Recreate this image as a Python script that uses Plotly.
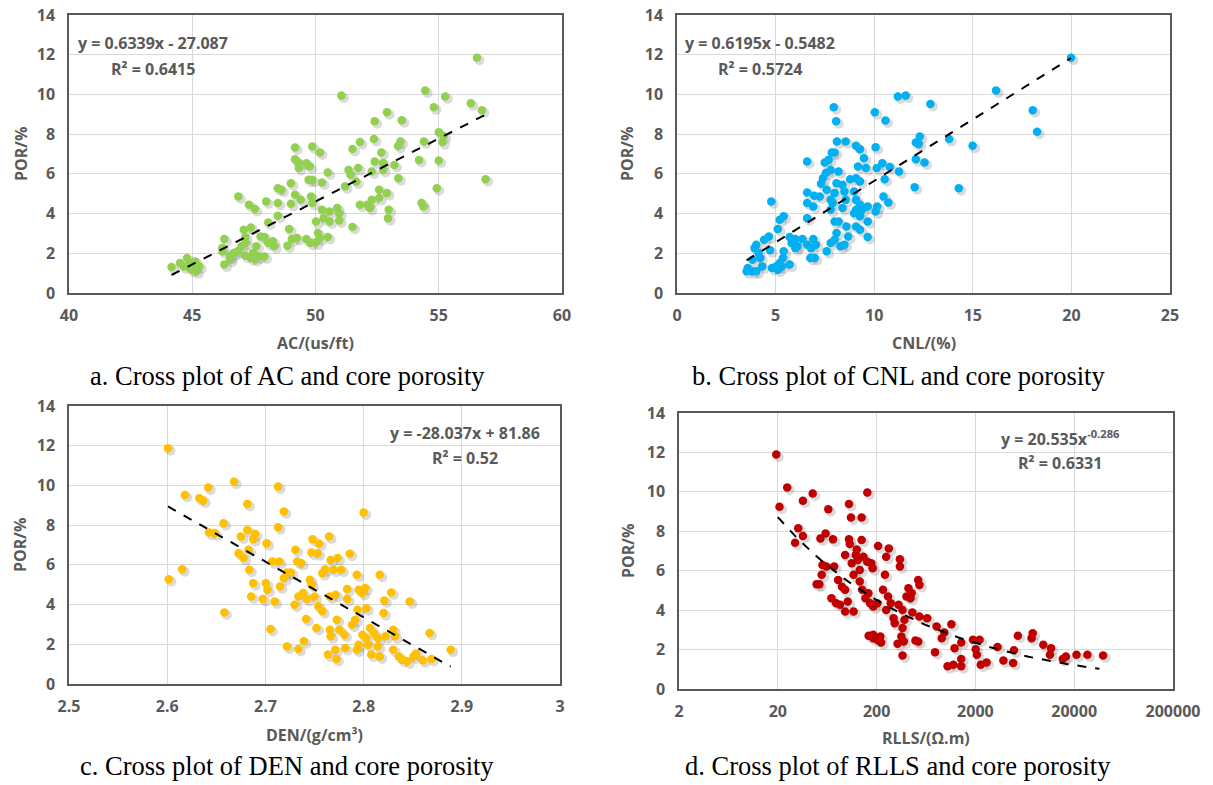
import numpy as np
import plotly.graph_objects as go

# ---------------- data ----------------
ac_x = [56.55, 51.05, 54.45, 55.26, 56.3, 56.75, 54.8, 52.9, 52.4, 53.5,
        55.0, 55.2, 55.15, 54.4, 53.45, 53.35, 52.37, 51.8, 51.5, 52.67,
        52.4, 52.74, 53.2, 54.2, 55.0, 52.74, 52.28, 51.73, 51.34, 51.42,
        51.65, 51.2, 50.5, 50.18, 49.87, 49.17, 49.17, 49.32, 49.63, 49.76,
        49.32, 49.72, 49.87, 50.26, 49.0, 48.47, 48.62, 49.17, 49.4, 49.82,
        49.87, 49.0, 48.47, 48.0, 47.3, 47.54, 46.87, 48.08, 48.47, 50.26,
        50.57, 50.88, 50.96, 50.33, 50.57, 50.96, 50.02, 51.8, 52.1, 52.28,
        52.58, 52.9, 52.58, 52.2, 52.97, 52.94, 53.36, 54.3, 54.37, 54.92,
        56.9, 51.5, 48.93, 47.09, 47.38, 47.15, 47.77, 47.93, 48.27, 48.32,
        48.86, 49.04, 49.25, 49.63, 49.79, 50.1, 50.18, 50.5, 50.02, 47.6,
        47.46, 47.38, 47.54, 47.69, 47.15, 47.0, 46.68, 46.53, 46.3, 46.22,
        46.22, 46.3, 44.16, 44.5, 44.79, 44.9, 44.66, 45.05, 45.13, 45.28,
        45.16, 44.97, 44.82, 46.53, 46.84, 47.15, 48.08, 47.93]
ac_por = [11.85, 9.94, 10.2, 9.9, 9.55, 9.2, 9.35, 9.1, 8.65, 8.7,
          8.1, 7.9, 7.6, 7.63, 7.63, 7.4, 7.75, 7.6, 7.25, 7.08,
          6.62, 6.55, 6.45, 6.7, 6.67, 6.2, 6.12, 6.29, 6.2, 5.95,
          5.6, 5.37, 6.07, 7.08, 7.38, 7.33, 6.74, 6.54, 6.54, 6.37,
          6.29, 5.7, 5.7, 5.57, 5.53, 5.28, 5.2, 4.95, 4.7, 4.86,
          4.53, 4.49, 4.53, 4.61, 4.44, 4.23, 4.86, 3.55, 3.89, 4.19,
          4.11, 4.28, 4.02, 3.77, 3.6, 3.65, 3.6, 4.44, 4.44, 4.7,
          5.2, 5.03, 4.78, 4.28, 4.19, 3.77, 5.78, 4.53, 4.36, 5.28,
          5.73, 3.32, 3.22, 3.19, 3.3, 2.8, 2.85, 2.82, 2.6, 2.35,
          2.38, 2.72, 2.77, 2.72, 2.52, 3.02, 2.77, 2.82, 2.55, 2.35,
          2.01, 1.76, 1.71, 1.84, 1.88, 2.35, 2.01, 1.68, 2.72, 2.26,
          2.1, 1.43, 1.31, 1.51, 1.76, 1.51, 1.34, 1.26, 1.59, 1.34,
          1.09, 1.17, 1.37, 1.84, 2.1, 2.52, 2.52, 1.84]

cnl_x = [19.98, 16.18, 18.04, 18.26, 14.99, 14.29, 13.8, 12.85, 11.2, 11.6,
         10.03, 10.57, 7.95, 8.07, 8.11, 8.55, 12.31, 12.11, 12.25, 12.11,
         12.55, 12.05, 11.26, 10.8, 10.41, 10.07, 10.13, 10.53, 10.47, 10.72,
         10.15, 10.07, 9.67, 9.67, 9.67, 9.58, 9.48, 9.28, 9.08, 9.18,
         9.08, 9.28, 8.78, 8.98, 9.08, 9.28, 9.08, 9.38, 8.98, 9.28,
         9.08, 9.28, 8.59, 8.68, 8.49, 8.29, 7.99, 7.79, 7.59, 8.09,
         7.99, 8.19, 7.79, 7.89, 7.99, 8.09, 8.39, 8.49, 8.55, 8.39,
         7.79, 7.59, 7.3, 7.4, 7.55, 7.79, 8.19, 7.49, 7.69, 7.85,
         7.99, 6.6, 6.6, 6.96, 6.6, 6.91, 7.24, 6.6, 6.36, 6.6,
         6.91, 7.04, 6.8, 6.76, 6.99, 6.0, 5.71, 5.81, 6.11, 6.0,
         5.71, 5.41, 5.21, 5.11, 5.41, 5.37, 5.21, 5.02, 4.82, 5.11,
         5.31, 4.78, 4.66, 4.42, 4.72, 4.22, 4.32, 4.02, 3.93, 4.13,
         3.83, 3.59, 3.83, 4.02, 3.53]
cnl_por = [11.85, 10.2, 9.2, 8.12, 7.41, 5.28, 7.75, 9.52, 9.9, 9.94,
           9.1, 8.69, 9.36, 8.65, 7.63, 7.63, 7.88, 7.58, 7.51, 6.74,
           6.57, 5.33, 6.12, 6.34, 6.54, 7.34, 6.29, 5.73, 4.86, 4.56,
           4.36, 4.11, 4.36, 3.6, 2.82, 6.29, 6.79, 7.24, 7.41, 6.37,
           5.78, 5.62, 5.73, 5.11, 4.69, 4.44, 4.19, 4.19, 4.02, 3.86,
           3.35, 3.19, 3.35, 2.85, 2.43, 2.35, 2.68, 2.52, 2.1, 3.02,
           3.6, 3.6, 4.19, 4.53, 5.03, 5.53, 5.45, 5.11, 4.69, 4.28,
           4.69, 5.2, 5.5, 5.78, 6.04, 6.2, 6.12, 6.57, 6.71, 7.08,
           7.08, 6.62, 5.06, 4.9, 4.53, 4.36, 4.86, 3.77, 2.72, 2.43,
           2.72, 2.43, 2.26, 1.76, 1.76, 2.72, 2.82, 2.52, 2.35, 2.26,
           1.43, 3.86, 3.69, 3.22, 2.1, 1.76, 1.51, 1.34, 1.26, 1.17,
           1.34, 4.61, 2.85, 2.68, 2.15, 1.76, 1.34, 2.43, 2.26, 2.01,
           1.68, 1.26, 1.09, 1.09, 1.09]

den_x = [2.6008, 2.6016, 2.6152, 2.618, 2.6328, 2.6367, 2.6418, 2.668, 2.7129, 2.6816,
         2.7188, 2.80, 2.6574, 2.6426, 2.6484, 2.675, 2.6816, 2.6895, 2.6875, 2.7012,
         2.7129, 2.6727, 2.6777, 2.6828, 2.6836, 2.6875, 2.6855, 2.6973, 2.7004, 2.702,
         2.7094, 2.707, 2.7141, 2.7148, 2.7188, 2.7219, 2.7258, 2.6582, 2.7051, 2.7219,
         2.7336, 2.7391, 2.7305, 2.7324, 2.7363, 2.7297, 2.7336, 2.7383, 2.7422, 2.7414,
         2.7453, 2.7469, 2.748, 2.7469, 2.7531, 2.7547, 2.758, 2.7609, 2.75, 2.7539,
         2.758, 2.752, 2.7648, 2.7664, 2.7695, 2.7734, 2.7773, 2.7656, 2.7715, 2.7727,
         2.7656, 2.7664, 2.7637, 2.7711, 2.7723, 2.7754, 2.7805, 2.7813, 2.7832, 2.7832,
         2.7859, 2.7883, 2.7914, 2.793, 2.795, 2.7938, 2.795, 2.793, 2.7988, 2.8016,
         2.8027, 2.7988, 2.8027, 2.8047, 2.8078, 2.8066, 2.8105, 2.8145, 2.8145, 2.8164,
         2.8164, 2.8203, 2.8211, 2.8223, 2.8281, 2.8301, 2.8301, 2.832, 2.8359, 2.8391,
         2.8445, 2.8469, 2.8508, 2.8535, 2.8602, 2.8672, 2.8691, 2.8887]
den_por = [11.87, 5.28, 5.78, 9.52, 9.36, 9.24, 9.89, 10.19, 9.94, 9.07,
           8.69, 8.64, 8.1, 7.63, 7.6, 7.43, 7.76, 7.56, 7.29, 7.09,
           7.9, 6.59, 6.34, 6.76, 5.75, 5.08, 4.41, 4.28, 5.08, 4.75,
           4.16, 6.17, 6.17, 4.91, 5.33, 5.62, 5.62, 3.6, 2.77, 1.89,
           1.76, 2.15, 6.76, 6.17, 6.09, 3.99, 4.41, 4.58, 4.28, 3.27,
           5.25, 5.0, 7.29, 6.62, 6.59, 7.06, 5.58, 5.78, 4.41, 3.91,
           3.66, 2.82, 7.43, 6.25, 5.75, 6.34, 5.75, 4.41, 4.49, 3.24,
           2.73, 2.4, 1.48, 1.73, 1.26, 2.73, 2.48, 1.81, 4.28, 4.78,
           6.56, 2.98, 3.24, 5.5, 4.75, 3.74, 1.98, 1.73, 4.58, 4.83,
           3.82, 2.48, 2.31, 1.98, 1.48, 2.82, 2.57, 2.31, 1.89, 1.39,
           5.5, 3.57, 4.21, 2.4, 4.61, 2.73, 1.73, 2.4, 1.39, 1.22,
           1.14, 4.16, 1.39, 1.53, 1.19, 2.57, 1.26, 1.73]

rlls_x = [19.3, 20.8, 24.9, 35.9, 45.1, 64.9, 29.9, 32.2, 35.9, 54,
          60.9, 72.4, 56.6, 62, 74.3, 55.6, 49.4, 52.6, 81.5, 89.3,
          96, 69.8, 77.9, 85.3, 102, 96, 117, 105, 110, 141,
          161, 96, 105, 107, 112, 123, 129, 135, 141, 126,
          147, 161, 177, 182, 117, 135, 143, 165, 154, 172,
          185, 203, 207, 250, 266, 250, 243, 232, 261, 278,
          297, 305, 344, 344, 334, 366, 383, 401, 420, 440,
          452, 366, 356, 377, 326, 366, 527, 542, 460, 542,
          650, 494, 527, 166, 185, 203, 218, 222, 185, 809,
          970, 912, 1143, 780, 1045, 1197, 1231, 1436, 1436, 1436,
          1888, 2013, 2067, 2203, 2265, 2596, 3350, 3840, 4820, 4910,
          5380, 7400, 7600, 9730, 11670, 11360, 15320, 16480, 21080, 27200,
          39200]
rlls_por = [11.89, 9.24, 10.22, 9.55, 9.92, 9.12, 7.42, 8.15, 7.76, 7.64,
            7.89, 7.59, 6.29, 6.21, 6.21, 5.79, 5.31, 5.31, 5.53, 5.19,
            5.03, 4.6, 4.35, 4.27, 4.44, 3.93, 3.93, 9.38, 8.7, 8.7,
            9.97, 6.8, 7.59, 7.35, 6.38, 6.8, 6.54, 6.04, 7.56, 7.08,
            6.71, 6.46, 6.38, 6.12, 5.79, 5.45, 5.03, 4.86, 4.6, 4.35,
            4.18, 4.35, 7.25, 4.01, 7.13, 6.71, 5.79, 5.03, 4.69, 4.35,
            3.59, 3.34, 6.58, 6.21, 4.27, 4.01, 3.51, 4.69, 5.11, 4.6,
            4.86, 3.09, 2.66, 2.41, 2.29, 1.7, 5.53, 5.28, 3.88, 3.68,
            3.59, 2.46, 2.41, 2.7, 2.58, 2.5, 2.66, 2.36, 2.75, 3.17,
            2.87, 2.58, 3.29, 1.86, 1.15, 1.23, 2.07, 2.36, 1.52, 1.15,
            2.5, 2.02, 1.74, 2.5, 1.23, 1.35, 2.13, 1.45, 1.32, 1.96,
            2.7, 2.58, 2.83, 2.24, 2.07, 1.74, 1.52, 1.65, 1.74, 1.74,
            1.7]

# fitted trend coefficients (as printed on the chart)
ac_fit = (0.6339, -27.087)
cnl_fit = (0.6195, -0.5482)
den_fit = (-28.037, 81.86)
rlls_fit = (20.535, -0.286)

eq_text = ["y = 0.6339x - 27.087", "y = 0.6195x - 0.5482",
           "y = -28.037x + 81.86", "y = 20.535x<sup>-0.286</sup>"]
r2_text = ["R² = 0.6415", "R² = 0.5724", "R² = 0.52", "R² = 0.6331"]
x_titles = ["AC/(us/ft)", "CNL/(%)", "DEN/(g/cm³)", "RLLS/(Ω.m)"]
captions = ["a. Cross plot of AC and core porosity",
            "b. Cross plot of CNL and core porosity",
            "c. Cross plot of DEN and core porosity",
            "d. Cross plot of RLLS and core porosity"]
colors = ["#92D050", "#00B0F0", "#FFC000", "#C00000"]

# ---------------- layout geometry (pixels) ----------------
W, H = 1213, 785
boxes = [(69, 562, 15, 293), (677, 1170, 15, 293),
         (69, 560, 406, 684), (679, 1173, 413, 689)]
xranges = [(40, 60), (0, 25), (2.5, 3.0), (np.log10(2), np.log10(200000))]

GRAY = "#595959"
FONT = "Open Sans"

fig = go.Figure()

datasets = [(ac_x, ac_por), (cnl_x, cnl_por), (den_x, den_por), (rlls_x, rlls_por)]

for i, (xs, ys) in enumerate(datasets):
    xa = "x" if i == 0 else f"x{i+1}"
    ya = "y" if i == 0 else f"y{i+1}"
    xs = np.array(xs, dtype=float)
    ys = np.array(ys, dtype=float)
    x0, x1, y0, y1 = boxes[i]
    pw, ph = x1 - x0, y1 - y0
    # soft drop shadow (~2.5 px right / down)
    dy = 2.5 * 14 / ph
    if i == 3:
        sx = xs * 10 ** (2.5 * (xranges[3][1] - xranges[3][0]) / pw)
    else:
        sx = xs + 2.5 * (xranges[i][1] - xranges[i][0]) / pw
    fig.add_trace(go.Scatter(x=sx, y=ys - dy, mode="markers", xaxis=xa, yaxis=ya,
                             marker=dict(size=10, color="rgba(90,90,90,0.22)", line=dict(width=0)),
                             hoverinfo="skip", showlegend=False))
    fig.add_trace(go.Scatter(x=xs, y=ys, mode="markers", xaxis=xa, yaxis=ya,
                             marker=dict(size=8.5, color=colors[i], line=dict(width=0)),
                             showlegend=False))
    # trend line
    if i == 3:
        tx = np.logspace(np.log10(20), np.log10(36000), 60)
        ty = rlls_fit[0] * tx ** rlls_fit[1]
    else:
        fit = [ac_fit, cnl_fit, den_fit][i]
        tx = np.array([xs.min(), xs.max()])
        ty = fit[0] * tx + fit[1]
    fig.add_trace(go.Scatter(x=tx, y=ty, mode="lines", xaxis=xa, yaxis=ya,
                             line=dict(color="black", width=2, dash="dash"),
                             hoverinfo="skip", showlegend=False))

layout = dict(width=W, height=H, margin=dict(l=0, r=0, t=0, b=0, autoexpand=False),
              paper_bgcolor="white", plot_bgcolor="white", showlegend=False,
              font=dict(family=FONT, color=GRAY))

tickfont = dict(family=FONT, size=16, color=GRAY, weight="bold")
for i in range(4):
    x0, x1, y0, y1 = boxes[i]
    sfx = "" if i == 0 else str(i + 1)
    xd = [x0 / W, x1 / W]
    yd = [1 - y1 / H, 1 - y0 / H]
    xax = dict(domain=xd, anchor="y" + sfx, showline=True, linecolor=GRAY, linewidth=1.5,
               mirror=True, showgrid=True, gridcolor="#d9d9d9", gridwidth=1, zeroline=False,
               ticks="", tickfont=tickfont, ticklabelstandoff=7, automargin=False)
    if i == 0:
        xax.update(range=[40, 60], dtick=5, tick0=40)
    elif i == 1:
        xax.update(range=[0, 25], dtick=5, tick0=0)
    elif i == 2:
        xax.update(range=[2.5, 3.0], dtick=0.1, tick0=2.5)
    else:
        xax.update(type="log", range=[np.log10(2), np.log10(200000)],
                   tickvals=[2, 20, 200, 2000, 20000, 200000],
                   ticktext=["2", "20", "200", "2000", "20000", "200000"])
    yax = dict(domain=yd, anchor="x" + sfx, range=[0, 14], dtick=2, showline=True,
               linecolor=GRAY, linewidth=1.5, mirror=True, showgrid=True,
               gridcolor="#d9d9d9", gridwidth=1, zeroline=False, ticks="",
               tickfont=tickfont, ticklabelstandoff=9, automargin=False)
    layout["xaxis" + sfx] = xax
    layout["yaxis" + sfx] = yax

fig.update_layout(**layout)

def ann(text, px, py, size=15, angle=0, family=FONT, bold=True, color=GRAY):
    fig.add_annotation(text=text, x=px / W, y=1 - py / H, xref="paper", yref="paper",
                       xanchor="center", yanchor="middle", showarrow=False, textangle=angle,
                       font=dict(family=family, size=size, color=color,
                                 weight="bold" if bold else "normal"))

ytitle_x = [21, 627, 20, 628]
xtitle_y = [343, 343, 735, 738]
eq_pos = [(153, 43, 69), (760, 43, 69), (465, 433, 458), (1060, 438, 463)]
cap_pos = [(287, 376), (898, 376), (287, 766), (898, 766)]
for i in range(4):
    x0, x1, y0, y1 = boxes[i]
    ann("POR/%", ytitle_x[i], (y0 + y1) / 2, size=16, angle=-90)
    ann(x_titles[i], (x0 + x1) / 2, xtitle_y[i], size=16)
    ex, ey, ry = eq_pos[i]
    ann(eq_text[i], ex, ey, size=16)
    ann(r2_text[i], ex, ry, size=16)
    ann(captions[i], cap_pos[i][0], cap_pos[i][1], size=26.5, family="Liberation Serif",
        bold=False, color="black")

fig.write_html("out.html", config={"displayModeBar": False},
               post_script="document.body.style.margin='0';"
                           "document.body.style.overflow='hidden';")
